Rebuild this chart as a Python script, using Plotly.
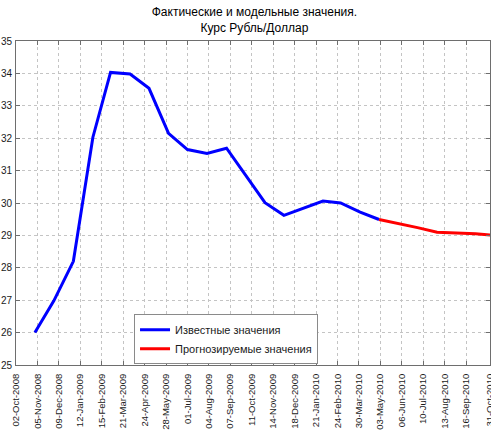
import pandas as pd
import plotly.graph_objects as go

# ---- data ----
actual_dates = ["2008-11-01", "2008-12-01", "2009-01-01", "2009-02-01", "2009-03-01",
                "2009-04-01", "2009-05-01", "2009-06-01", "2009-07-01", "2009-08-01",
                "2009-09-01", "2009-11-01", "2009-12-01", "2010-02-01", "2010-03-01",
                "2010-04-01", "2010-05-01"]
actual_values = [26.0, 26.98, 28.2, 32.03, 34.03, 33.98, 33.54, 32.15, 31.65, 31.53,
                 31.69, 30.01, 29.62, 30.06, 30.0, 29.72, 29.49]

forecast_dates = ["2010-05-01", "2010-06-01", "2010-07-01", "2010-08-01", "2010-09-01",
                  "2010-10-01", "2010-11-01"]
forecast_values = [29.49, 29.37, 29.24, 29.10, 29.08, 29.05, 29.0]

x_tick_labels = ["02-Oct-2008", "05-Nov-2008", "09-Dec-2008", "12-Jan-2009", "15-Feb-2009",
                 "21-Mar-2009", "24-Apr-2009", "28-May-2009", "01-Jul-2009", "04-Aug-2009",
                 "07-Sep-2009", "11-Oct-2009", "14-Nov-2009", "18-Dec-2009", "21-Jan-2010",
                 "24-Feb-2010", "30-Mar-2010", "03-May-2010", "06-Jun-2010", "10-Jul-2010",
                 "13-Aug-2010", "16-Sep-2010", "31-Oct-2010"]
y_ticks = [25, 26, 27, 28, 29, 30, 31, 32, 33, 34, 35]

title_text = "Фактические и модельные значения.<br>Курс Рубль/Доллар"
legend_names = ["Известные значения", "Прогнозируемые значения"]

# ---- figure ----
x_start = pd.Timestamp("2008-10-02")
x_end = pd.Timestamp("2010-10-24")
tick_dates = [min(pd.to_datetime(t, format="%d-%b-%Y"), x_end) for t in x_tick_labels]

FONT = "Liberation Sans, Arial, sans-serif"
AXIS_COL = "#6e6e6e"
GRID_COL = "#c4c4c4"

fig = go.Figure()
fig.add_trace(go.Scatter(x=pd.to_datetime(actual_dates), y=actual_values, mode="lines",
                         name=legend_names[0], line=dict(color="#0000ff", width=3)))
fig.add_trace(go.Scatter(x=pd.to_datetime(forecast_dates), y=forecast_values, mode="lines",
                         name=legend_names[1], line=dict(color="#ff0000", width=3)))

fig.update_layout(
    width=491, height=430,
    margin=dict(l=16, r=1, t=41, b=65, autoexpand=False),
    paper_bgcolor="white", plot_bgcolor="white",
    font=dict(family=FONT, size=10, color="#1a1a1a"),
    title=dict(text=title_text, x=0.503, xanchor="center", xref="paper",
               y=0.963, yanchor="top", yref="container",
               font=dict(family=FONT, size=12, color="#000000")),
    showlegend=True,
    legend=dict(x=0.249, y=0.002, xanchor="left", yanchor="bottom",
                bgcolor="white", bordercolor="#8a8a8a", borderwidth=1,
                font=dict(family=FONT, size=11, color="#1a1a1a"),
                tracegroupgap=0),
)

fig.update_xaxes(
    type="date", range=[x_start, x_end], automargin=False,
    tickmode="array", tickvals=tick_dates, ticktext=x_tick_labels,
    tickangle=-90, ticks="inside", ticklen=4, tickcolor=AXIS_COL,
    ticklabeloverflow="allow", ticklabelstandoff=4,
    showline=True, linecolor=AXIS_COL, linewidth=1, mirror="ticks",
    showgrid=True, gridcolor=GRID_COL, griddash="dot", gridwidth=1,
    zeroline=False, tickfont=dict(size=9.5),
)
fig.update_yaxes(
    range=[25, 35], tickmode="array", tickvals=y_ticks, automargin=False,
    ticks="inside", ticklen=4, tickcolor=AXIS_COL, ticklabeloverflow="allow",
    showline=True, linecolor=AXIS_COL, linewidth=1, mirror="ticks",
    showgrid=True, gridcolor=GRID_COL, griddash="dot", gridwidth=1,
    zeroline=False, tickfont=dict(size=10), ticklabelstandoff=1,
)

fig.write_html("out.html", config={"displayModeBar": False},
               post_script="document.body.style.margin='0';document.body.style.overflow='hidden';")
